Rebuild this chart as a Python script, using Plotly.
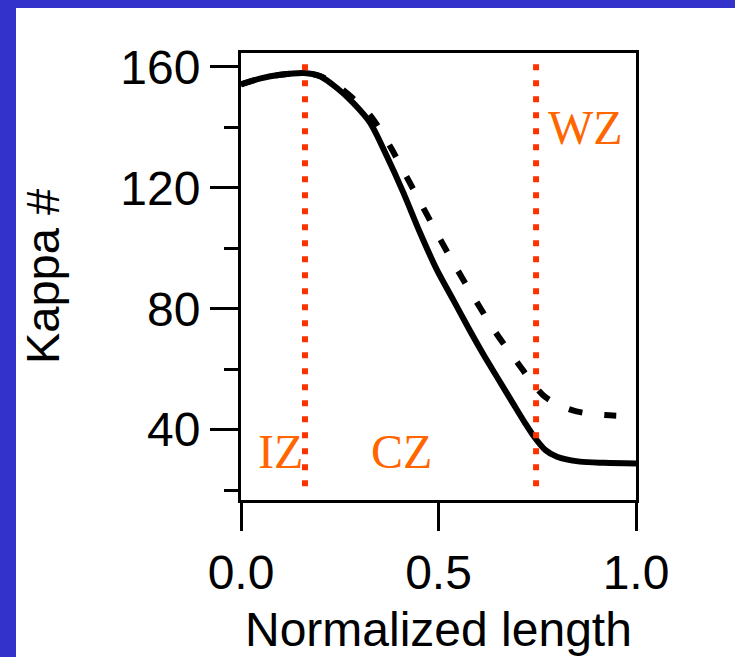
import plotly.graph_objects as go

# ---- data ----
solid_x = [0.00, 0.05, 0.10, 0.16, 0.20, 0.242, 0.284, 0.327, 0.369, 0.411, 0.453, 0.495,
           0.537, 0.580, 0.613, 0.65, 0.689, 0.72, 0.744, 0.77, 0.80, 0.858, 0.92, 1.00]
solid_y = [154.2, 156.2, 157.4, 158.0, 156.9, 153.1, 148.1, 141.5, 130.5, 118.4, 105.2, 93.1,
           83.0, 72.6, 65.0, 57.0, 48.6, 42.0, 37.3, 33.3, 31.0, 29.4, 29.0, 28.8]

dashed_x = [0.00, 0.05, 0.10, 0.16, 0.20, 0.251, 0.325, 0.377, 0.419, 0.461, 0.504, 0.549,
            0.597, 0.647, 0.702, 0.74, 0.77, 0.81, 0.849, 0.90, 0.95]
dashed_y = [154.2, 156.2, 157.4, 158.0, 157.0, 153.1, 144.3, 133.8, 123.7, 113.5, 103.0, 92.6,
            82.1, 71.7, 61.8, 55.0, 50.8, 47.8, 46.0, 45.0, 44.6]

zone_bounds = [0.162, 0.747]
zone_labels = ["IZ", "CZ", "WZ"]
zone_label_x = [0.099, 0.406, 0.871]
zone_label_y = [32.9, 32.9, 139.8]

x_range = [0, 1]
y_range = [16.7, 164.6]
y_ticks = [40, 80, 120, 160]
y_minor_ticks = [20, 60, 100, 140]
x_ticks = [0.0, 0.5, 1.0]
x_title = "Normalized length"
y_title = "Kappa #"

# ---- style ----
W, H = 735, 657
L, R, T, B = 241, 99, 53, 157
BLUE = "#3333CC"
RED = "#FF3300"
ORANGE = "#FF6600"
SANS = "Liberation Sans, Arial, sans-serif"
SERIF = "Liberation Serif, Times New Roman, serif"

fig = go.Figure()

fig.add_trace(go.Scatter(x=dashed_x, y=dashed_y, mode="lines",
                         line=dict(color="black", width=6, dash="14px,22px",
                                   shape="spline", smoothing=0.8),
                         showlegend=False, hoverinfo="skip"))
fig.add_trace(go.Scatter(x=solid_x, y=solid_y, mode="lines",
                         line=dict(color="black", width=6, shape="spline", smoothing=0.8),
                         showlegend=False, hoverinfo="skip"))

shapes = []
for xb in zone_bounds:
    shapes.append(dict(type="line", xref="x", yref="paper", x0=xb, x1=xb, y0=0.975, y1=0.02,
                       line=dict(color=RED, width=6, dash="6px,10px"), layer="above"))

# blue frame of the slide (pixel -> paper coordinates)
pw, ph = W - L - R, H - T - B
def px_x(p):
    return (p - L) / pw
def px_y(p):
    return (H - B - p) / ph
shapes.append(dict(type="rect", xref="paper", yref="paper",
                   x0=px_x(0), x1=px_x(16), y0=px_y(H), y1=px_y(0),
                   fillcolor=BLUE, line=dict(width=0), layer="below"))
shapes.append(dict(type="rect", xref="paper", yref="paper",
                   x0=px_x(0), x1=px_x(W), y0=px_y(8), y1=px_y(0),
                   fillcolor=BLUE, line=dict(width=0), layer="below"))

annotations = []
for lab, ax_, ay_ in zip(zone_labels, zone_label_x, zone_label_y):
    annotations.append(dict(x=ax_, y=ay_, xref="x", yref="y", text=lab, showarrow=False,
                            font=dict(family=SERIF, size=48, color=ORANGE),
                            xanchor="center", yanchor="middle"))
# x-axis title, placed near the bottom edge as in the slide
annotations.append(dict(x=0.5, y=px_y(629), xref="paper", yref="paper", text=x_title,
                        showarrow=False, font=dict(family=SANS, size=48, color="black"),
                        xanchor="center", yanchor="middle"))

fig.update_layout(
    width=W, height=H, autosize=False,
    margin=dict(l=L, r=R, t=T, b=B, pad=0, autoexpand=False),
    paper_bgcolor="white", plot_bgcolor="white",
    shapes=shapes, annotations=annotations,
    font=dict(family=SANS, size=48, color="black"),
    xaxis=dict(range=x_range, tickvals=x_ticks, tickformat=".1f", automargin=False,
               showline=True, linecolor="black", linewidth=3, mirror=True,
               ticks="outside", ticklen=28, tickwidth=3, tickcolor="black",
               showgrid=False, zeroline=False, ticklabelstandoff=0),
    yaxis=dict(range=y_range, tickvals=y_ticks, automargin=False,
               showline=True, linecolor="black", linewidth=3, mirror=True,
               ticks="outside", ticklen=28, tickwidth=3, tickcolor="black",
               showgrid=False, zeroline=False, ticklabelstandoff=0,
               minor=dict(tickvals=y_minor_ticks, ticks="outside", ticklen=14,
                          tickwidth=3, tickcolor="black"),
               title=dict(text=y_title, font=dict(size=47), standoff=46)),
)

fig.write_html(
    "out.html",
    config={"displayModeBar": False, "responsive": False},
    post_script="document.body.style.margin='0';document.body.style.padding='0';"
                "document.body.style.overflow='hidden';",
)
